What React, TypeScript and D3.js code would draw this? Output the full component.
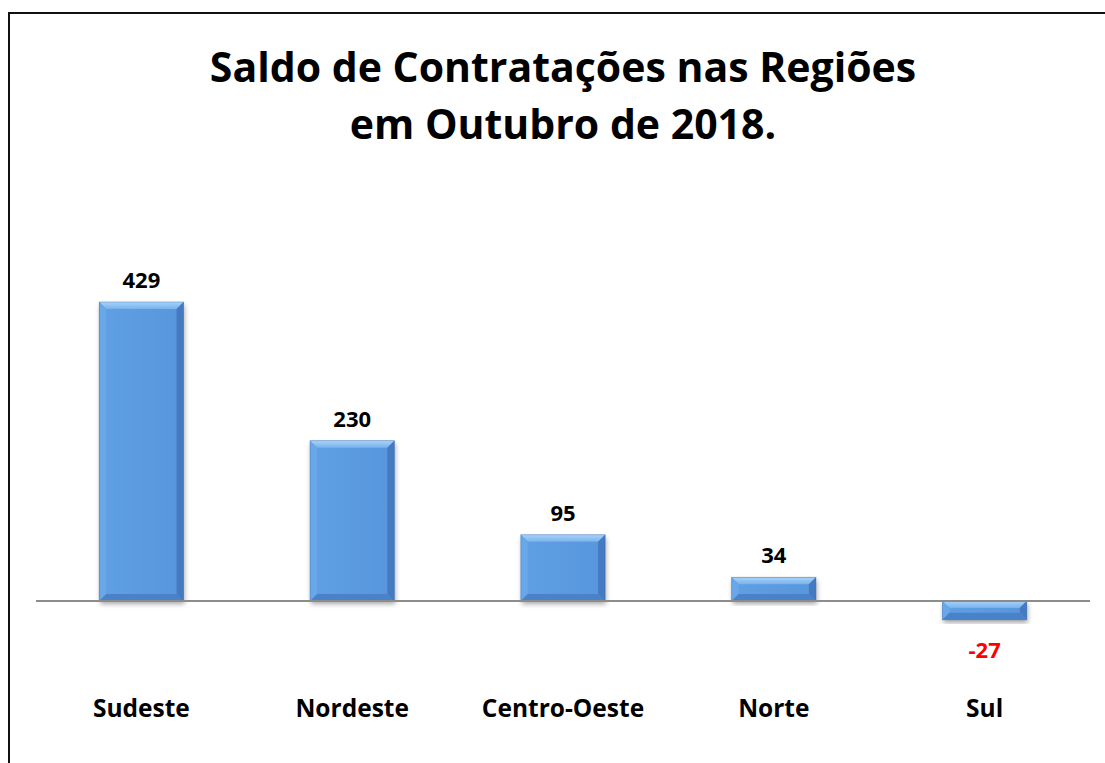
import React from "react";
import * as d3 from "d3";

const categories = ["Sudeste", "Nordeste", "Centro-Oeste", "Norte", "Sul"];
const values = [429, 230, 95, 34, -27];
const titleLines = ["Saldo de Contratações nas Regiões", "em Outubro de 2018."];

const W = 1105;
const H = 763;

export default function App() {
  const x = d3.scaleBand<string>().domain(categories).range([36, 1090]).paddingInner(0.6).paddingOuter(0.3);
  const y = d3.scaleLinear().domain([0, 429]).range([601, 302]);
  const bw = x.bandwidth();
  const font = "'Open Sans', Lato, sans-serif";

  return (
    <svg width={W} height={H} style={{ position: "absolute", left: 0, top: 0, background: "#fff" }}>
      <defs>
        <linearGradient id="mainG" x1="0" y1="0" x2="1" y2="0">
          <stop offset="0" stopColor="#5f9fe3" />
          <stop offset="1" stopColor="#5896dc" />
        </linearGradient>
        <linearGradient id="topG" x1="0" y1="0" x2="0" y2="1">
          <stop offset="0" stopColor="#a9d3f8" />
          <stop offset="1" stopColor="#77b2ee" />
        </linearGradient>
        <filter id="shadow" x="-20%" y="-20%" width="140%" height="140%">
          <feGaussianBlur in="SourceAlpha" stdDeviation="2.5" />
          <feOffset dx="1" dy="3" result="b" />
          <feComponentTransfer>
            <feFuncA type="linear" slope="0.35" />
          </feComponentTransfer>
          <feMerge>
            <feMergeNode />
            <feMergeNode in="SourceGraphic" />
          </feMerge>
        </filter>
      </defs>
      <rect x={9} y={13} width={W + 20} height={H + 20} fill="none" stroke="#111" strokeWidth={2} />
      {titleLines.map((t, i) => (
        <text key={i} x={563} y={82 + i * 57} textAnchor="middle" fontFamily={font} fontWeight={700} fontSize={41} fill="#000">
          {t}
        </text>
      ))}
      {categories.map((c, i) => {
        const v = values[i];
        const x0 = x(c)!;
        const x1 = x0 + bw;
        const y0 = Math.min(y(v), y(0));
        const y1 = Math.max(y(v), y(0));
        const b = Math.min(7, (y1 - y0) / 2);
        return (
          <g key={c}>
            <g filter="url(#shadow)">
              <rect x={x0} y={y0} width={bw} height={y1 - y0} fill="url(#mainG)" />
            </g>
            <polygon points={`${x0},${y0} ${x1},${y0} ${x1 - b},${y0 + b} ${x0 + b},${y0 + b}`} fill="url(#topG)" />
            <polygon points={`${x0},${y0} ${x0 + b},${y0 + b} ${x0 + b},${y1 - b} ${x0},${y1}`} fill="#68a7e8" />
            <polygon points={`${x1},${y0} ${x1},${y1} ${x1 - b},${y1 - b} ${x1 - b},${y0 + b}`} fill="#4579c0" />
            <polygon points={`${x0},${y1} ${x1},${y1} ${x1 - b},${y1 - b} ${x0 + b},${y1 - b}`} fill="#4a82c9" />
            <rect x={x0} y={y0} width={bw} height={y1 - y0} fill="none" stroke="#3f70b0" strokeOpacity={0.5} strokeWidth={0.8} />
          </g>
        );
      })}
      <line x1={36} x2={1090} y1={y(0)} y2={y(0)} stroke="#8c8c8c" strokeWidth={2} />
      {categories.map((c, i) => {
        const v = values[i];
        const cx = x(c)! + bw / 2;
        const ly = v >= 0 ? y(v) - 14 : y(v) + 38;
        return (
          <text key={c} x={cx} y={ly} textAnchor="middle" fontFamily={font} fontWeight={700} fontSize={22} fill={v >= 0 ? "#000" : "#ff0000"}>
            {v}
          </text>
        );
      })}
      {categories.map((c) => (
        <text key={c} x={x(c)! + bw / 2} y={717} textAnchor="middle" fontFamily={font} fontWeight={700} fontSize={24.5} fill="#000">
          {c}
        </text>
      ))}
    </svg>
  );
}
